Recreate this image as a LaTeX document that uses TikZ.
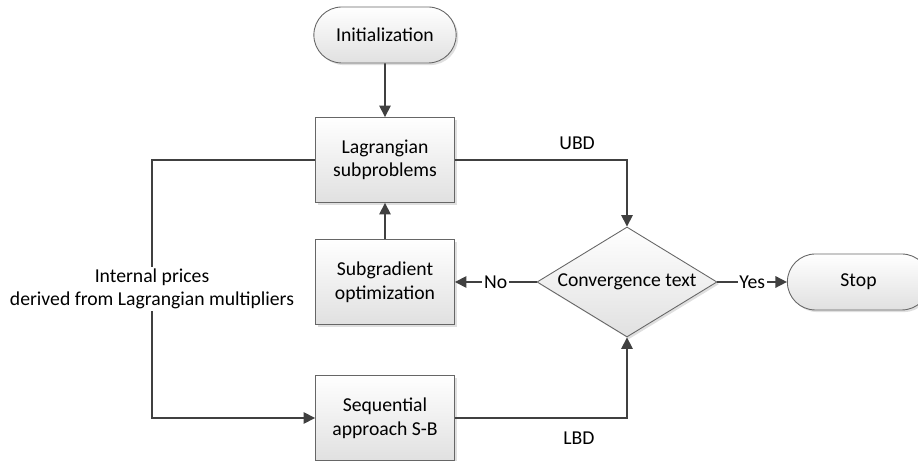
\documentclass[tikz,border=0pt]{standalone}
\usepackage{fontspec}
\setmainfont{Carlito}
\usetikzlibrary{arrows.meta,shapes.geometric,shapes.misc,shadows}

\begin{document}
\begin{tikzpicture}[
  font=\fontsize{11.2pt}{13.4pt}\selectfont,
  shade/.style={top color=white, bottom color=black!12, draw=black!60, line width=0.5pt,
    drop shadow={shadow xshift=1.2pt, shadow yshift=-1.2pt, opacity=0.25}},
  box/.style={shade, rectangle, minimum width=2.78cm, minimum height=1.7cm, align=center},
  term/.style={shade, rounded rectangle, minimum width=3.08cm, minimum height=1.12cm},
  cond/.style={shade, diamond, aspect=1.64, minimum width=3.6cm, minimum height=2.2cm, inner sep=0pt},
  arr/.style={draw=black!75, line width=0.9pt, -{Triangle[length=2.3mm, width=2.3mm]}}
]
\useasboundingbox (0,0) rectangle (18.36,9.22);

\node[term] (init) at (7.70,8.52) {Initialization};
\node[box] (lag) at (7.70,6.02) {Lagrangian\\subproblems};
\node[box] (sub) at (7.70,3.58) {Subgradient\\optimization};
\node[box] (seq) at (7.70,0.86) {Sequential\\approach S-B};
\node[cond] (conv) at (12.54,3.58) {Convergence text};
\node[term] (stop) at (17.17,3.58) {Stop};
\coordinate (fb) at (3.04,6.02);

\draw[arr] (init) -- (lag);
\draw[arr] (sub) -- (lag);
\draw[arr] (lag.east) -| node[pos=0.355, above=2pt] {UBD} (conv.north);
\draw[arr] (seq.east) -| node[pos=0.36, below=4pt] {LBD} (conv.south);
\draw[arr] (conv.west) -- node[fill=white, inner sep=1pt] {No} (sub.east);
\draw[arr] (conv.east) -- node[fill=white, inner sep=1pt] {Yes} (stop.west);
\draw[arr] (lag.west) -- (fb) |- node[pos=0.25, fill=white, align=center, inner sep=1pt]
  {Internal prices\\derived from Lagrangian multipliers} (seq.west);

\end{tikzpicture}
\end{document}
